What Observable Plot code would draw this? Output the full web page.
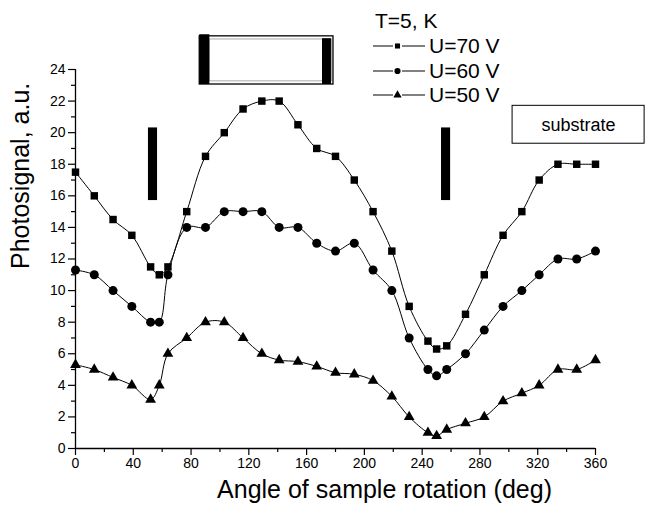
<!DOCTYPE html>
<html><head><meta charset="utf-8">
<script src="https://cdn.jsdelivr.net/npm/d3@7"></script>
<script src="https://cdn.jsdelivr.net/npm/@observablehq/plot@0.6"></script>
<style>
body{margin:0;background:#fff;}
#wrap{position:relative;width:652px;height:515px;font-family:"Liberation Sans",Arial,sans-serif;color:#000;}
.lg{position:absolute;left:373px;font-size:21px;line-height:24px;height:24px;white-space:nowrap;display:flex;align-items:center;}
.lg svg{display:block;margin-right:3px;}
</style></head><body><div id="wrap"></div>
<script>
// ---- data ----
const angles = [0, 13, 26, 39, 52, 58, 64, 77, 90, 103, 116, 129, 141, 154, 167, 180, 193, 206, 219, 231, 244, 250, 257, 270, 283, 296, 309, 321, 334, 347, 360];
const u70 = [17.5, 16, 14.5, 13.5, 11.5, 11, 11.5, 15, 18.5, 20, 21.5, 22, 22, 20.5, 19, 18.5, 17, 15, 12.5, 9, 6.8, 6.3, 6.5, 8.5, 11, 13.5, 15, 17, 18, 18, 18];
const u60 = [11.3, 11, 10, 9, 8, 8, 11, 14, 14, 15, 15, 15, 14, 14, 13, 12.5, 13, 11.3, 10, 7, 5, 4.6, 5, 6, 7.5, 9, 10, 11, 12, 12, 12.5];
const u50 = [5.3, 5, 4.5, 4, 3.1, 4, 6, 7, 8, 8, 7, 6, 5.6, 5.5, 5.2, 4.8, 4.7, 4.3, 3.3, 2, 1, 0.8, 1.2, 1.6, 2, 3, 3.5, 4, 5, 5, 5.6];
const seriesNames = ["U=70 V", "U=60 V", "U=50 V"];
const legendTitle = "T=5, K";
const xTicks = [0, 40, 80, 120, 160, 200, 240, 280, 320, 360];
const xMinorTicks = [20, 60, 100, 140, 180, 220, 260, 300, 340];
const yTicks = [0, 2, 4, 6, 8, 10, 12, 14, 16, 18, 20, 22, 24];
const yMinorTicks = [1, 3, 5, 7, 9, 11, 13, 15, 17, 19, 21, 23];
const xTitle = "Angle of sample rotation (deg)";
const yTitle = "Photosignal, a.u.";
// annotation sketches (data units)
const deviceBody = [{x1: 86, x2: 178.6, y1: 23.05, y2: 26.1}];
const deviceInner = [{x1: 93, x2: 177.6, y1: 23.25, y2: 25.9}];
const deviceContacts = [{x1: 86, x2: 93, y1: 23.05, y2: 26.2}, {x1: 171, x2: 177.2, y1: 23.05, y2: 25.95}];
const edgeBars = [{x1: 50.5, x2: 56.8, y1: 15.7, y2: 20.3}, {x1: 253.4, x2: 259.7, y1: 15.7, y2: 20.3}];
const substrateBox = [{x1: 302.6, x2: 394, y1: 19.3, y2: 21.7}];
const substrateLabel = [{x: 348.3, y: 20.5, text: "substrate"}];

const rows = (vals) => angles.map((a, i) => ({angle: a, value: vals[i]}));
const r70 = rows(u70), r60 = rows(u60), r50 = rows(u50);

const lineOpts = {x: "angle", y: "value", curve: "catmull-rom", stroke: "black", strokeWidth: 1};

const chart = Plot.plot({
  width: 652, height: 515,
  marginLeft: 75, marginRight: 57, marginTop: 69, marginBottom: 67,
  style: {fontFamily: "Liberation Sans, Arial, sans-serif", fontSize: "14px", color: "#000", background: "white", overflow: "visible"},
  x: {domain: [0, 360]},
  y: {domain: [0, 24]},
  marks: [
    Plot.axisX(xTicks, {tickSize: 7, tickPadding: 3, fontSize: 14, label: null, strokeWidth: 1.2}),
    Plot.axisX(xMinorTicks, {tickSize: 4, tickFormat: () => "", label: null, strokeWidth: 1.2}),
    Plot.axisY(yTicks, {tickSize: 7, tickPadding: 3, fontSize: 14, label: null, strokeWidth: 1.2}),
    Plot.axisY(yMinorTicks, {tickSize: 4, tickFormat: () => "", label: null, strokeWidth: 1.2}),
    Plot.ruleX([0], {stroke: "black", strokeWidth: 1.3}),
    Plot.ruleY([0], {stroke: "black", strokeWidth: 1.3}),
    Plot.rect(deviceBody, {x1: "x1", x2: "x2", y1: "y1", y2: "y2", fill: "white", stroke: "black", strokeWidth: 1.3}),
    Plot.rect(deviceInner, {x1: "x1", x2: "x2", y1: "y1", y2: "y2", fill: "none", stroke: "#aaa", strokeWidth: 1}),
    Plot.rect(deviceContacts, {x1: "x1", x2: "x2", y1: "y1", y2: "y2", fill: "black"}),
    Plot.rect(edgeBars, {x1: "x1", x2: "x2", y1: "y1", y2: "y2", fill: "black"}),
    Plot.rect(substrateBox, {x1: "x1", x2: "x2", y1: "y1", y2: "y2", fill: "white", stroke: "black", strokeWidth: 1}),
    Plot.text(substrateLabel, {x: "x", y: "y", text: "text", fontSize: 18, fill: "black"}),
    Plot.line(r70, lineOpts),
    Plot.line(r60, lineOpts),
    Plot.line(r50, lineOpts),
    Plot.dot(r70, {x: "angle", y: "value", symbol: "square", r: 4.2, fill: "black"}),
    Plot.dot(r60, {x: "angle", y: "value", symbol: "circle", r: 4.5, fill: "black"}),
    Plot.dot(r50, {x: "angle", y: "value", symbol: "triangle", r: 4, fill: "black"}),
    Plot.text([xTitle], {frameAnchor: "bottom", dy: 49, dx: 49, fontSize: 25, fill: "black"}),
    Plot.text([yTitle], {frameAnchor: "left", rotate: -90, dx: -55, dy: 10, fontSize: 25, fill: "black"})
  ]
});
const wrap = document.getElementById("wrap");
wrap.appendChild(chart);

// legend overlay
const symbols = ["square", "circle", "triangle"];
const t = document.createElement("div");
t.className = "lg"; t.style.top = "9px"; t.style.left = "375px"; t.textContent = legendTitle;
wrap.appendChild(t);
seriesNames.forEach((name, i) => {
  const row = document.createElement("div");
  row.className = "lg"; row.style.top = (34 + i * 24.5) + "px";
  const svg = d3.create("svg").attr("width", 53).attr("height", 24);
  svg.append("line").attr("x1", 0).attr("x2", 20).attr("y1", 12).attr("y2", 12).attr("stroke", "black");
  svg.append("line").attr("x1", 29).attr("x2", 52).attr("y1", 12).attr("y2", 12).attr("stroke", "black");
  const sym = {square: d3.symbolSquare, circle: d3.symbolCircle, triangle: d3.symbolTriangle}[symbols[i]];
  svg.append("path").attr("d", d3.symbol(sym, i === 0 ? 26 : 30)()).attr("transform", "translate(24.5,12)").attr("fill", "black");
  row.appendChild(svg.node());
  const s = document.createElement("span"); s.textContent = name;
  row.appendChild(s);
  wrap.appendChild(row);
});
</script>
</body></html>
